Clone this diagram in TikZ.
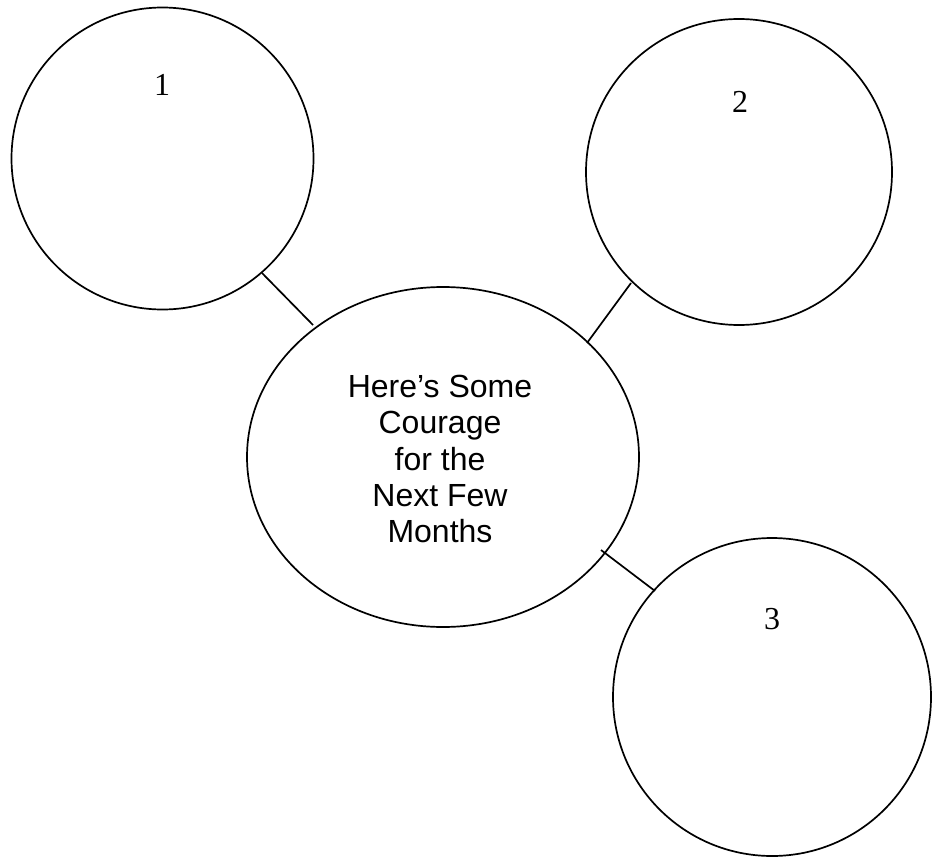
\documentclass[tikz,border=0pt]{standalone}
\usepackage{fontspec}
\setmainfont{Liberation Serif}
\newfontfamily\arialfont{Liberation Sans}
\begin{document}
\begin{tikzpicture}[x=1pt,y=-1pt,
  outline/.style={draw=black,line width=1.7pt},
  link/.style={draw=black,line width=1.7pt},
  numlabel/.style={font=\fontsize{32}{36}\selectfont,anchor=base,inner sep=0pt},
  centerlabel/.style={font=\arialfont\fontsize{32}{36.3}\selectfont,align=center,inner sep=0pt}]
\useasboundingbox (0,0) rectangle (933,859);
\draw[outline] (162.5,158.5) circle [radius=151];
\node[circle,minimum size=302pt,inner sep=0pt] (c1) at (162.5,158.5) {};
\draw[outline] (739,172) circle [radius=153];
\node[circle,minimum size=306pt,inner sep=0pt] (c2) at (739,172) {};
\draw[outline] (772,697) circle [radius=159];
\node[circle,minimum size=318pt,inner sep=0pt] (c3) at (772,697) {};
\draw[outline] (443,457) ellipse [x radius=196, y radius=170];
\node (hub) at (443,457) {};
\coordinate (a1) at (262,273);
\coordinate (b1) at (313,325);
\coordinate (a2) at (631,283);
\coordinate (b2) at (587,343);
\coordinate (a3) at (601,550);
\coordinate (b3) at (655,591);
\draw[link] (a1) -- (b1);
\draw[link] (a2) -- (b2);
\draw[link] (a3) -- (b3);
\node[numlabel] (n1) at (162,95) {1};
\node[numlabel] (n2) at (740,112) {2};
\node[numlabel] (n3) at (772,629) {3};
\node[centerlabel] (txt) at (440,459) {Here’s Some\\Courage\\for the\\Next Few\\Months};
\end{tikzpicture}
\end{document}
